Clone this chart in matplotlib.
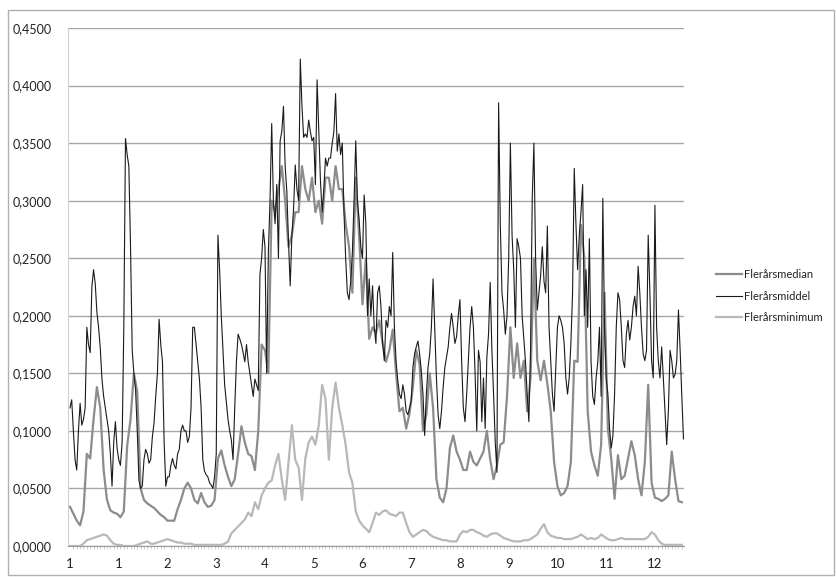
import numpy as np
import matplotlib
matplotlib.use("Agg")
import matplotlib.pyplot as plt
from matplotlib.ticker import FuncFormatter, FixedLocator, MultipleLocator
from matplotlib.patches import Rectangle

# ---- data (daily values) ----
tick_labels = ["1", "1", "2", "3", "4", "5", "6", "7", "8", "9", "10", "11", "12"]
tick_step_days = 29

middel = [
    0.12, 0.127, 0.10, 0.075, 0.066, 0.10, 0.124, 0.105, 0.11, 0.12,
    0.19, 0.175, 0.168, 0.225, 0.24, 0.228, 0.203, 0.19, 0.172, 0.145,
    0.13, 0.12, 0.11, 0.10, 0.08, 0.052, 0.09, 0.108, 0.085, 0.075,
    0.07, 0.09, 0.19, 0.354, 0.34, 0.33, 0.26, 0.17, 0.15, 0.136,
    0.10, 0.057, 0.05, 0.052, 0.075, 0.084, 0.08, 0.072, 0.075, 0.095,
    0.107, 0.13, 0.15, 0.197, 0.175, 0.16, 0.09, 0.052, 0.06, 0.06,
    0.07, 0.076, 0.07, 0.067, 0.08, 0.084, 0.1, 0.105, 0.1, 0.1,
    0.09, 0.095, 0.12, 0.19, 0.19, 0.175, 0.16, 0.145, 0.12, 0.075,
    0.065, 0.062, 0.06, 0.055, 0.053, 0.05, 0.06, 0.08, 0.27, 0.24,
    0.2, 0.17, 0.14, 0.125, 0.11, 0.10, 0.092, 0.075, 0.12, 0.16,
    0.184, 0.18, 0.175, 0.168, 0.16, 0.175, 0.16, 0.15, 0.14, 0.13,
    0.145, 0.14, 0.135, 0.236, 0.25, 0.275, 0.26, 0.15, 0.255, 0.30,
    0.367, 0.30, 0.28, 0.314, 0.25, 0.352, 0.36, 0.382, 0.33, 0.308,
    0.264, 0.226, 0.27, 0.293, 0.331, 0.31, 0.30, 0.423, 0.382, 0.355,
    0.358, 0.355, 0.37, 0.36, 0.352, 0.355, 0.314, 0.405, 0.361, 0.317,
    0.29, 0.31, 0.337, 0.33, 0.337, 0.337, 0.35, 0.36, 0.393, 0.343,
    0.358, 0.34, 0.35, 0.29, 0.25, 0.22, 0.214, 0.23, 0.255, 0.30,
    0.352, 0.30, 0.284, 0.26, 0.25, 0.305, 0.28, 0.2, 0.232, 0.2,
    0.226, 0.19, 0.176, 0.22, 0.226, 0.208, 0.176, 0.161, 0.196, 0.19,
    0.208, 0.2, 0.255, 0.19, 0.16, 0.144, 0.132, 0.128, 0.14, 0.132,
    0.117, 0.114, 0.12, 0.126, 0.155, 0.167, 0.173, 0.178, 0.167, 0.152,
    0.132, 0.096, 0.132, 0.155, 0.167, 0.19, 0.232, 0.19, 0.146, 0.114,
    0.102, 0.117, 0.138, 0.155, 0.164, 0.173, 0.19, 0.202, 0.19, 0.176,
    0.182, 0.2, 0.214, 0.161, 0.12, 0.108, 0.132, 0.161, 0.19, 0.208,
    0.19, 0.15, 0.10, 0.17, 0.16, 0.108, 0.146, 0.102, 0.164, 0.184,
    0.229, 0.17, 0.132, 0.09, 0.064, 0.385, 0.28, 0.22, 0.205, 0.184,
    0.2, 0.25, 0.35, 0.27, 0.24, 0.19, 0.267, 0.26, 0.25, 0.2,
    0.18, 0.16, 0.132, 0.108, 0.17, 0.302, 0.35, 0.25, 0.205, 0.22,
    0.235, 0.26, 0.23, 0.22, 0.278, 0.19, 0.161, 0.132, 0.117, 0.155,
    0.19, 0.2, 0.196, 0.19, 0.176, 0.146, 0.132, 0.146, 0.176, 0.22,
    0.328, 0.28,
    0.24, 0.27, 0.29, 0.314, 0.2, 0.24, 0.19, 0.267, 0.16, 0.13,
    0.123, 0.146, 0.16, 0.19, 0.13, 0.302, 0.19, 0.146, 0.132, 0.102,
    0.085, 0.096, 0.132, 0.19, 0.22, 0.214, 0.19, 0.161, 0.155, 0.184,
    0.196, 0.179, 0.19, 0.208, 0.217, 0.2, 0.243, 0.22, 0.19, 0.167,
    0.161, 0.17, 0.27, 0.22, 0.161, 0.146, 0.296, 0.19, 0.161, 0.146,
    0.173, 0.146, 0.117, 0.088, 0.117, 0.17, 0.161, 0.146, 0.149, 0.161,
    0.205, 0.17, 0.13, 0.093,
]

# every second day
median = [
    0.034, 0.028, 0.022, 0.018, 0.03, 0.08, 0.076, 0.11, 0.138, 0.12,
    0.066, 0.04, 0.031, 0.029, 0.028, 0.025, 0.03, 0.087, 0.11, 0.15,
    0.134, 0.05, 0.04, 0.037, 0.035, 0.033, 0.03, 0.027, 0.025, 0.022,
    0.022, 0.022, 0.032, 0.04, 0.05, 0.055, 0.05, 0.04, 0.037, 0.046,
    0.038, 0.034, 0.035, 0.04, 0.076, 0.083, 0.07, 0.06, 0.052, 0.058,
    0.08, 0.104, 0.09, 0.08, 0.078, 0.066, 0.1, 0.175, 0.17, 0.15,
    0.30, 0.29, 0.31, 0.33, 0.30, 0.26, 0.27, 0.29, 0.29, 0.33,
    0.31, 0.30, 0.32, 0.29, 0.30, 0.28, 0.32, 0.32, 0.30, 0.33,
    0.31, 0.31, 0.28, 0.26, 0.22, 0.32, 0.27, 0.21, 0.25, 0.18,
    0.19, 0.185, 0.196, 0.176, 0.16, 0.17, 0.188, 0.15, 0.117, 0.12,
    0.102, 0.115, 0.138, 0.17, 0.158, 0.10, 0.114, 0.15, 0.12, 0.058,
    0.042, 0.038, 0.05, 0.085, 0.096, 0.082, 0.075, 0.066, 0.066, 0.082,
    0.073, 0.07, 0.076, 0.082, 0.10, 0.075, 0.058, 0.07, 0.088, 0.09,
    0.13, 0.19, 0.146, 0.176, 0.146, 0.161, 0.117, 0.146, 0.25, 0.161,
    0.144, 0.161, 0.141, 0.117, 0.073, 0.052, 0.044, 0.046, 0.052, 0.073,
    0.161,
    0.16, 0.279, 0.25, 0.117, 0.082, 0.07, 0.061, 0.088, 0.22, 0.102,
    0.076, 0.041, 0.079, 0.058, 0.061, 0.076, 0.091, 0.079, 0.058, 0.044,
    0.073, 0.14, 0.055, 0.042, 0.041, 0.039, 0.041, 0.044, 0.082, 0.058,
    0.039, 0.038,
]

minimum = [
    0.0, 0.0, 0.0, 0.0, 0.002, 0.005, 0.006, 0.007, 0.008, 0.009,
    0.010, 0.009, 0.005, 0.002, 0.001, 0.001, 0.0, 0.0, 0.0, 0.0,
    0.001, 0.002, 0.003, 0.004, 0.002, 0.002, 0.003, 0.004, 0.005, 0.006,
    0.005, 0.004, 0.003, 0.003, 0.002, 0.002, 0.002, 0.001, 0.001, 0.001,
    0.001, 0.001, 0.001, 0.001, 0.001, 0.001, 0.002, 0.004, 0.011, 0.014,
    0.017, 0.02, 0.023, 0.029, 0.026, 0.038, 0.032, 0.044, 0.05, 0.055,
    0.057, 0.07, 0.08, 0.058, 0.04, 0.073, 0.105, 0.075, 0.068, 0.04,
    0.076, 0.09, 0.095, 0.088, 0.105, 0.14, 0.128, 0.075, 0.12, 0.142,
    0.12, 0.105, 0.088, 0.064, 0.055, 0.03, 0.022, 0.018, 0.015, 0.012,
    0.02, 0.029, 0.027, 0.03, 0.031, 0.028, 0.027, 0.026, 0.029, 0.029,
    0.02, 0.012, 0.008, 0.01, 0.012, 0.014, 0.013, 0.01, 0.008, 0.007,
    0.006, 0.005, 0.005, 0.004, 0.004, 0.004, 0.01, 0.013, 0.012, 0.014,
    0.014, 0.012, 0.011, 0.009, 0.008, 0.01, 0.011, 0.011, 0.009, 0.007,
    0.006, 0.005, 0.004, 0.004, 0.004, 0.005, 0.005, 0.006, 0.008, 0.01,
    0.015, 0.019, 0.012, 0.009, 0.008, 0.007, 0.007, 0.006, 0.006, 0.006,
    0.007, 0.008, 0.01, 0.008, 0.006, 0.007, 0.006, 0.007, 0.01, 0.008,
    0.006, 0.005, 0.005, 0.006, 0.007, 0.006, 0.006, 0.006, 0.006, 0.006,
    0.006, 0.006, 0.008, 0.012, 0.01, 0.005, 0.002, 0.001, 0.001, 0.001,
    0.001, 0.001, 0.001,
]

series_names = ["Flerårsmedian", "Flerårsmiddel", "Flerårsminimum"]
series_colors = ["#8c8c8c", "#1a1a1a", "#b8b8b8"]

# ---- figure ----
plt.rcParams["font.family"] = ["Lato", "DejaVu Sans"]
W, H = 836, 577
fig = plt.figure(figsize=(W / 100, H / 100), dpi=100)
fig.patch.set_facecolor("white")
fig.add_artist(Rectangle((8 / W, 2 / H), (826 / W), (565 / H), transform=fig.transFigure,
                         fill=False, edgecolor="#b0b0b0", linewidth=1.0))

left, right, top, bottom = 68, 684, 28, 546
ax = fig.add_axes([left / W, 1 - bottom / H, (right - left) / W, (bottom - top) / H])

days_mean = np.arange(len(middel))
days_median = np.arange(len(median)) * 2
days_min = np.arange(len(minimum)) * 2

ax.plot(days_median, median, color=series_colors[0], lw=1.6, label=series_names[0], zorder=3)
ax.plot(days_mean, middel, color=series_colors[1], lw=0.8, label=series_names[1], zorder=4)
ax.plot(days_min, minimum, color=series_colors[2], lw=1.6, label=series_names[2], zorder=5)

ax.set_xlim(-1.2, 365.3)
ax.set_ylim(0, 0.45)
ax.yaxis.set_major_locator(MultipleLocator(0.05))
ax.yaxis.set_major_formatter(FuncFormatter(lambda v, p: f"{v:.4f}".replace(".", ",")))
ax.grid(axis="y", color="#a6a6a6", lw=1.0)
ax.set_axisbelow(True)

ticks = [i * tick_step_days for i in range(len(tick_labels))]
ax.xaxis.set_major_locator(FixedLocator(ticks))
ax.set_xticklabels(tick_labels)
ax.xaxis.set_minor_locator(MultipleLocator(2))
ax.tick_params(axis="x", which="major", length=0, pad=9, labelsize=9.5, labelcolor="#222222")
ax.tick_params(axis="x", which="minor", length=2, color="#c8c8c8", direction="out")
ax.tick_params(axis="y", length=0, pad=12, labelsize=9, labelcolor="#222222")

for s in ["top", "right"]:
    ax.spines[s].set_visible(False)
ax.spines["left"].set_color("#d0d0d0")
ax.spines["bottom"].set_color("#9a9a9a")

fig.legend(loc="center left", bbox_to_anchor=(706 / W, 1 - 296 / H), frameon=False,
           fontsize=8, handlelength=2.3, handletextpad=0.2, labelspacing=0.95,
           labelcolor="#222222")

fig.savefig("out.png", dpi=100, facecolor="white")
